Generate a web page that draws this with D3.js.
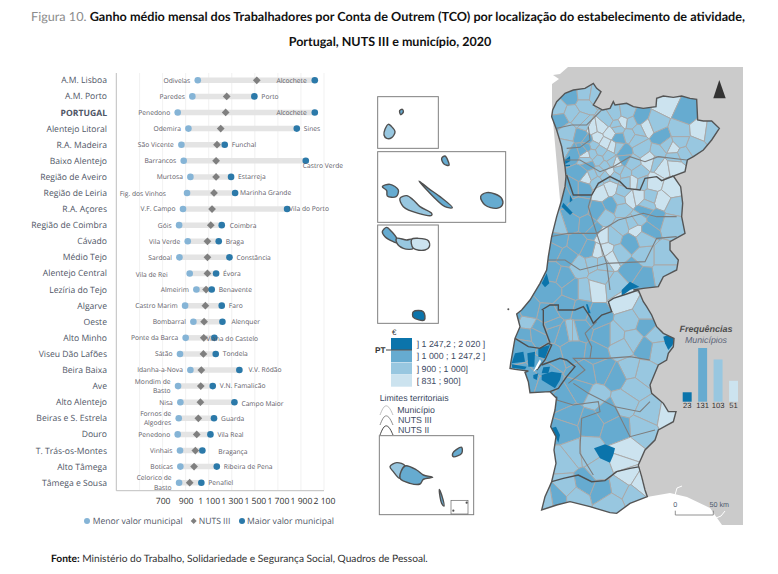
<!DOCTYPE html>
<html>
<head>
<meta charset="utf-8">
<script src="https://cdn.jsdelivr.net/npm/d3@7"></script>
<style>
  body { margin: 0; background: #fff; }
  text { font-family: "Open Sans", sans-serif; text-rendering: geometricPrecision; }
</style>
</head>
<body>
<div id="chart"></div>
<script>
// Chart data
var categories = ["A.M. Lisboa", "A.M. Porto", "PORTUGAL", "Alentejo Litoral", "R.A. Madeira", "Baixo Alentejo", "Região de Aveiro", "Região de Leiria", "R.A. Açores", "Região de Coimbra", "Cávado", "Médio Tejo", "Alentejo Central", "Lezíria do Tejo", "Algarve", "Oeste", "Alto Minho", "Viseu Dão Lafões", "Beira Baixa", "Ave", "Alto Alentejo", "Beiras e S. Estrela", "Douro", "T. Trás-os-Montes", "Alto Tâmega", "Tâmega e Sousa"];
var minValues = [1005, 958, 831, 924, 863, 883, 941, 912, 877, 843, 918, 846, 935, 993, 895, 967, 900, 851, 941, 834, 854, 840, 831, 851, 854, 843];
var nutsValues = [1517, 1256, 1247, 1204, 1172, 1164, 1164, 1146, 1129, 1118, 1089, 1089, 1089, 1077, 1071, 1060, 1057, 1054, 1036, 1031, 1028, 1010, 996, 984, 973, 935];
var maxValues = [2020, 1496, 2020, 1864, 1239, 1942, 1294, 1329, 1780, 1213, 1187, 1280, 1164, 1126, 1213, 1219, 1149, 1161, 1366, 1135, 1323, 1146, 1115, 1045, 1170, 1036];
var minNames = ["Odivelas", "Paredes", "Penedono", "Odemira", "São Vicente", "Barrancos", "Murtosa", "Fig. dos Vinhos", "V.F. Campo", "Góis", "Vila Verde", "Sardoal", "Vila de Rei", "Almeirim", "Castro Marim", "Bombarral", "Ponte da Barca", "Sátão", "Idanha-a-Nova", "Mondim de|Basto", "Nisa", "Fornos de|Algodres", "Penedono", "Vinhais", "Boticas", "Celorico de|Basto"];
var maxNames = ["Alcochete", "Porto", "Alcochete", "Sines", "Funchal", "Castro Verde", "Estarreja", "Marinha Grande", "Vila do Porto", "Coimbra", "Braga", "Constância", "Évora", "Benavente", "Faro", "Alenquer", "Viana do Castelo", "Tondela", "V.V. Ródão", "V.N. Famalicão", "Campo Maior", "Guarda", "Vila Real", "Bragança", "Ribeira de Pena", "Penafiel"];
var gridValues = [500, 700, 900, 1100, 1300, 1500, 1700, 1900, 2100];
var tickValues = [700, 900, 1100, 1300, 1500, 1700, 1900, 2100];

// Map legend data
var classLabels = ["] 1 247,2 ; 2 020 ]", "] 1 000 ; 1 247,2 ]", "] 900 ; 1 000]", "[ 831 ; 900]"];
var classCounts = [23, 131, 103, 51];
var classColors = ["#0b74ab", "#66abd0", "#98c7e0", "#cce3ef"];

// Map shapes. Units are 1/3 px of the north crop
var outlineNorth = [[68,150],[80,125],[105,100],[130,90],[165,85],[190,70],[200,85],[213,95],[205,110],[190,135],[218,150],[240,145],[250,125],[255,135],[290,130],[310,140],[340,145],[378,140],[380,115],[400,108],[430,112],[455,108],[480,115],[500,118],[503,180],[520,183],[545,183],[568,205],[545,240],[520,270],[490,290],[472,300],[465,335],[430,348],[452,380],[458,430],[455,470],[465,520],[420,545],[420,570],[445,600],[440,630],[400,650],[385,680],[340,685],[310,690]];
var outlineSouth = [[325,0],[340,35],[350,50],[365,75],[380,110],[400,130],[432,145],[430,170],[415,190],[410,210],[385,225],[360,285],[365,310],[400,340],[415,365],[438,365],[430,395],[385,420],[375,450],[345,480],[325,525],[335,560],[345,600],[352,620],[300,640],[260,670],[240,668],[180,650],[120,635],[80,645],[35,660],[45,620],[65,575],[78,520],[72,480],[78,440],[62,410],[75,360],[80,320]];
var outlineLisbon = [[185,385],[165,365],[105,368],[100,335],[90,307],[100,303],[60,298],[45,295],[47,280],[60,205],[75,170],[65,132],[80,120],[105,90],[135,40],[155,0]];
var outlineWest = [[55,590],[65,530],[80,470],[95,420],[105,380],[108,350],[105,320],[95,260],[80,210],[65,170]];
var estuary = [[115,305],[125,285],[135,268],[138,275],[128,295]];

var seedsNorth = [[120,110,1],[165,105,2],[85,145,2],[90,180,1],[125,160,2],[165,135,2],[195,110,2],[115,215,2],[155,225,1],[175,240,1],[150,180,2],[185,205,3],[215,200,3],[240,220,3],[200,235,3],[225,250,3],[250,260,3],[255,165,2],[280,185,3],[265,235,1],[300,225,2],[330,175,1],[350,200,3],[395,235,1],[405,130,3],[470,160,1],[450,215,2],[510,210,3],[545,215,2],[490,260,2],[430,265,3],[385,275,2],[335,265,2],[105,265,2],[130,280,1],[170,285,3],[205,300,2],[235,290,2],[280,275,1],[175,315,1],[210,335,2],[240,335,3],[170,352,3],[200,365,2],[260,310,3],[305,310,2],[285,340,2],[325,340,2],[310,365,3],[360,300,3],[400,320,3],[430,315,3],[460,280,2],[370,370,3],[425,385,3],[395,420,3],[435,440,2],[360,410,2],[300,415,3],[325,410,3],[240,385,3],[280,395,2],[215,395,3],[245,435,1],[205,455,1],[225,470,2],[275,445,2],[130,385,1],[160,385,1],[150,440,1],[100,400,1],[120,490,1],[175,495,1],[90,500,2],[345,450,1],[375,475,1],[310,490,2],[425,490,2],[275,500,2],[320,510,3],[350,510,1],[300,545,1],[220,530,3],[230,570,3],[245,590,3],[200,575,3],[180,570,1],[140,550,1],[85,540,1],[110,590,1],[70,570,1],[150,620,2],[190,610,2],[345,590,2],[400,590,2],[400,640,2],[310,630,1],[340,650,1],[70,640,1],[100,650,1],[130,690,1],[160,690,2],[210,650,2],[200,685,3],[255,680,2],[60,690,1],
  [165,195,2],[232,180,2],[262,205,2],[190,255,2],[170,262,1],[212,272,2],[262,262,2],[325,212,2],[375,190,2],[320,238,2],[260,195,2],[302,188,2],[290,160,2],[410,255,2],[450,245,2],[432,292,2],[380,305,2],[225,347,2],[255,347,2],[225,318,2],[155,340,1],[187,345,2],[160,270,1],[186,282,2],[170,300,2],[245,305,2],[282,298,1],[265,330,2],[290,365,2],[335,368,2],[270,420,2],[350,435,2],[325,480,2],[340,530,2],[190,510,1],[250,530,2],[265,580,2],[215,610,2]];
var seedsSouth = [[280,30,3],[300,95,2],[345,65,2],[345,110,1],[255,140,2],[375,140,2],[380,175,2],[310,145,2],[350,170,1],[340,250,2],[300,240,2],[310,290,2],[270,170,2],[225,140,1],[150,120,1],[130,180,1],[100,130,1],[125,125,2],[70,120,1],[55,80,1],[200,80,1],[150,60,1],[110,50,1],[30,120,1],[200,190,1],[220,240,1],[165,250,1],[260,260,1],[150,300,1],[100,330,1],[40,230,1],[60,200,1],[280,335,2],[200,325,2],[360,370,2],[415,380,3],[340,415,2],[230,360,1],[180,395,1],[120,375,1],[105,420,1],[260,420,1],[130,490,2],[105,510,2],[175,485,2],[210,540,2],[285,485,3],[275,515,3],[290,560,3],[330,585,3],[270,590,2],[310,610,2],[215,600,1],[165,580,1],[110,590,2],[80,620,1],[50,625,2],[240,640,2],[140,620,2]];
var seedsLisbon = [[90,155,2],[60,140,1],[95,125,1],[235,185,2],[85,195,1],[130,190,1],[170,165,1],[80,225,1],[105,330,1],[150,345,1]];

// Municipalities in the top class, too small for the seeds
var topClassNorth = [
  [[105,300],[120,288],[121,303],[106,312]],
  [[106,315],[120,314],[120,318],[106,319]],
  [[120,405],[128,420],[119,428]],
  [[100,428],[128,458],[120,465],[95,440]],
  [[35,670],[50,640],[58,670],[45,682]],
  [[275,690],[300,665],[328,680],[300,690],[275,708]]
];
var topClassSouth = [
  [[400,140],[415,135],[432,145],[428,165],[415,180],[405,160]],
  [[192,475],[225,463],[255,475],[250,495],[240,518],[210,505]],
  [[62,415],[78,410],[90,435],[85,458],[72,430]]
];
var topClassLisbon = [
  [[60,250],[85,245],[90,275],[50,280]],
  [[97,250],[120,245],[118,290],[100,290]],
  [[130,235],[165,225],[150,265],[130,260]],
  [[140,315],[170,305],[200,310],[195,330],[180,355],[140,330]],
  [[145,292],[165,290],[160,310],[140,310]],
  [[115,315],[130,310],[125,330],[115,325]],
  [[50,283],[95,290],[90,298],[52,294]],
  [[273,103],[278,103],[287,130],[280,130]]
];

// Boundaries between regions
var nuts2North = [[[110,345],[120,375],[130,405],[185,405],[205,370],[240,350],[270,365],[290,385],[330,390],[345,355],[380,350],[395,362],[430,348]]];
var nuts2South = [
  [[35,60],[60,45],[85,45],[85,60],[135,60],[160,50],[180,80],[190,100],[215,75],[245,65],[235,35],[250,25],[290,12],[325,0]],
  [[65,575],[100,565],[145,555],[185,575],[225,572],[260,545],[300,535],[330,530]]
];
var nuts2Lisbon = [
  [[60,205],[100,230],[135,235],[160,220],[170,225],[150,270],[125,300]],
  [[140,285],[195,265],[215,270],[240,290],[215,320],[190,355],[165,365]],
  [[145,120],[145,165],[165,218]]
];
var nuts3North = [
  [[80,205],[125,195],[170,195],[215,150]],
  [[110,265],[150,262],[180,240],[175,200]],
  [[100,300],[150,300],[210,335],[250,320],[300,290],[345,305],[385,290],[470,300]],
  [[185,405],[175,440],[200,520],[265,480],[340,460],[380,470],[440,470]],
  [[60,530],[115,520],[200,520],[230,610],[345,605],[380,535],[440,530]],
  [[40,600],[105,600],[150,630],[230,610]],
  [[230,610],[240,690]]
];
var nuts3South = [
  [[165,130],[200,95]],
  [[165,130],[185,170],[180,205],[130,205],[165,240],[115,280]],
  [[180,205],[230,205],[300,200],[360,210]],
  [[130,280],[175,310],[255,350],[330,365],[360,335]],
  [[80,330],[130,345],[205,335],[210,365],[155,385],[150,475],[150,490],[190,555]],
  [[255,350],[300,440],[375,420]]
];

// Islands, in units of the inset crops
var flores = [[55,103],[65,110],[75,125],[65,143],[50,145],[42,135],[45,118]];
var corvo = [[89,62],[97,58],[100,66],[92,74]];
var graciosa = [[215,205],[225,198],[235,215],[237,226],[222,222]];
var faial = [[37,290],[60,283],[85,300],[78,320],[52,318],[50,302]];
var pico = [[90,325],[110,317],[130,330],[150,350],[185,370],[185,376],[145,370],[100,350]];
var saoJorge = [[147,273],[175,295],[210,320],[247,353],[225,350],[190,320]];
var terceira = [[332,320],[350,308],[375,312],[395,325],[397,345],[380,355],[345,345]];
var saoMiguelWest = [[37,425],[50,412],[65,425],[80,445],[80,458],[70,455],[45,440]];
var saoMiguelMid = [[80,445],[110,450],[125,448],[130,475],[100,475],[80,458]];
var saoMiguelEast = [[125,448],[145,445],[175,452],[178,470],[165,480],[130,475]];
var santaMaria = [[130,665],[160,665],[163,690],[130,682]];
var madeiraWest = [[60,440],[80,428],[105,438],[90,475],[70,455]];
var madeiraEast = [[105,438],[140,450],[160,465],[188,472],[160,478],[150,492],[120,490],[90,475]];
var portoSanto = [[248,400],[260,388],[275,382],[275,400],[250,410]];
var desertas = [[208,508],[215,525],[222,558],[215,550],[210,530]];
var selvagens = [[290,548],[250,572]];

var svg = d3.select("#chart").append("svg").attr("width", 778).attr("height", 574);

// Titles
var title1 = svg.append("text").attr("x", 31).attr("y", 21).attr("font-size", 12.5)
  .attr("textLength", 714).attr("lengthAdjust", "spacingAndGlyphs")
  .style("font-family", "Lato, sans-serif").attr("font-weight", 700).attr("fill", "#111");
title1.append("tspan").attr("fill", "#8c8c8c").attr("font-weight", 400).text("Figura 10. ");
title1.append("tspan").text("Ganho médio mensal dos Trabalhadores por Conta de Outrem (TCO) por localização do estabelecimento de atividade,");
svg.append("text").attr("x", 390).attr("y", 46).attr("text-anchor", "middle").attr("font-size", 12.5)
  .style("font-family", "Lato, sans-serif").attr("font-weight", 700).attr("fill", "#111")
  .text("Portugal, NUTS III e município, 2020");

var footer = svg.append("text").attr("x", 51).attr("y", 562).attr("font-size", 10.2)
  .style("font-family", "Lato, sans-serif").attr("fill", "#333");
footer.append("tspan").attr("font-weight", 700).attr("fill", "#111").text("Fonte: ");
footer.append("tspan").text("Ministério do Trabalho, Solidariedade e Segurança Social, Quadros de Pessoal.");

// Dumbbell chart
var x = d3.scaleLinear().domain([700, 2100]).range([162.6, 324]);
var y = d3.scalePoint().domain(categories).range([80.3, 482.7]);

var labelColor = "#5c5a66";
var minColor = "#85b4d6";
var maxColor = "#2b79a9";
var diamond = d3.symbol().type(d3.symbolSquare).size(30);

svg.append("g").selectAll("line").data(gridValues).join("line")
  .attr("x1", (d) => x(d)).attr("x2", (d) => x(d))
  .attr("y1", 73).attr("y2", 490)
  .attr("stroke", "#eeeeee").attr("stroke-width", 0.8);

svg.append("line").attr("x1", 116.3).attr("x2", 116.3).attr("y1", 73).attr("y2", 490.7)
  .attr("stroke", "#bfbfbf").attr("stroke-width", 1);

var nf = d3.formatLocale({ decimal: ",", thousands: " ", grouping: [3], currency: ["", "€"] }).format(",");
var xAxis = svg.append("g").attr("transform", "translate(0,490.7)")
  .call(d3.axisBottom(x).tickValues(tickValues).tickFormat(nf).tickSize(0).tickPadding(7));
xAxis.select(".domain").remove();
xAxis.selectAll("text").attr("font-size", 8.6).attr("fill", "#333")
  .style("font-family", "'Open Sans', sans-serif");
svg.append("line").attr("x1", 116.3).attr("x2", 324).attr("y1", 490.7).attr("y2", 490.7)
  .attr("stroke", "#bfbfbf").attr("stroke-width", 1);

svg.append("g").selectAll("text").data(categories).join("text")
  .attr("x", 107).attr("y", (d) => y(d)).attr("dy", "0.35em")
  .attr("text-anchor", "end").attr("font-size", 8.6).attr("fill", "#4f5666")
  .attr("font-weight", (d) => d === "PORTUGAL" ? 700 : 400)
  .text((d) => d);

// Grey bar from lowest to highest municipality
svg.append("g").selectAll("line").data(categories).join("line")
  .attr("x1", (d, i) => x(minValues[i])).attr("x2", (d, i) => x(maxValues[i]))
  .attr("y1", (d) => y(d)).attr("y2", (d) => y(d))
  .attr("stroke", "#e4e4e4").attr("stroke-width", 5.5);

svg.append("g").selectAll("path").data(categories).join("path")
  .attr("d", diamond)
  .attr("transform", (d, i) => "translate(" + x(nutsValues[i]) + "," + y(d) + ") rotate(45)")
  .attr("fill", "#7f7f7f");

svg.append("g").selectAll("circle").data(categories).join("circle")
  .attr("cx", (d, i) => x(minValues[i])).attr("cy", (d) => y(d)).attr("r", 3.3).attr("fill", minColor);
svg.append("g").selectAll("circle").data(categories).join("circle")
  .attr("cx", (d, i) => x(maxValues[i])).attr("cy", (d) => y(d)).attr("r", 3.3).attr("fill", maxColor);

// Municipality names. Most sit 8 px off the dot, these ones do not
var minShift = { "Fig. dos Vinhos": [-21, 0.5], "Vila de Rei": [-22, 1] };
var maxShift = {
  "Castro Verde": [-3, 4.5], "Vila do Porto": [2, 0], "Marinha Grande": [5, 0], "Viana do Castelo": [-8, 1],
  "Bragança": [16, 1], "V.V. Ródão": [9, 0], "Alenquer": [9, 0], "Coimbra": [8, 0], "Campo Maior": [7, 1]
};

minNames.forEach(function(name, i) {
  var shift = minShift[name] || [-7.5, 0];
  var lines = name.split("|");
  lines.forEach(function(line, k) {
    svg.append("text")
      .attr("text-anchor", "end").attr("font-size", 6.7).attr("fill", labelColor)
      .attr("x", x(minValues[i]) + shift[0])
      .attr("y", y(categories[i]) + shift[1] + (k - (lines.length - 1) / 2) * 9.4)
      .attr("dy", "0.35em").text(line);
  });
});

maxNames.forEach(function(name, i) {
  // Alcochete does not fit past the dot, it goes inside the bar
  var inside = name === "Alcochete";
  var shift = inside ? [-8, 0] : (maxShift[name] || [7, 0]);
  svg.append("text")
    .attr("text-anchor", inside ? "end" : "start").attr("font-size", 6.7).attr("fill", labelColor)
    .attr("x", x(maxValues[i]) + shift[0]).attr("y", y(categories[i]) + shift[1])
    .attr("dy", "0.35em").text(name);
});

// Chart legend
var legend = svg.append("g").attr("font-size", 8.6).attr("fill", "#4f5666");
legend.append("circle").attr("cx", 87).attr("cy", 521).attr("r", 3).attr("fill", minColor);
legend.append("text").attr("x", 92.7).attr("y", 521).attr("dy", "0.35em").text("Menor valor municipal");
legend.append("path").attr("d", d3.symbol().type(d3.symbolSquare).size(18))
  .attr("transform", "translate(193.7,521) rotate(45)").attr("fill", "#7f7f7f");
legend.append("text").attr("x", 198.7).attr("y", 521).attr("dy", "0.35em").text("NUTS III");
legend.append("circle").attr("cx", 242).attr("cy", 521).attr("r", 3).attr("fill", maxColor);
legend.append("text").attr("x", 247).attr("y", 521).attr("dy", "0.35em").text("Maior valor municipal");

// Map
var mapX = d3.scaleLinear().domain([0, 660]).range([530, 750]);
var mapY = d3.scaleLinear().domain([0, 720]).range([60, 300]);
var fromSouth = (pts) => pts.map((p) => [p[0], p[1] + 690].concat(p.slice(2)));
var fromLisbon = (pts) => pts.map((p) => [p[0] - 105, p[1] + 630].concat(p.slice(2)));
var mapLine = d3.line().x((d) => mapX(d[0])).y((d) => mapY(d[1]));
var mapShape = (pts) => mapLine(pts) + "Z";

var outline = outlineNorth.concat(fromSouth(outlineSouth), fromLisbon(outlineLisbon), outlineWest);
var seeds = seedsNorth.concat(fromSouth(seedsSouth), fromLisbon(seedsLisbon));

// Spain and the sea edge, in plain page pixels
var spain = [[568,67],[743,67],[743,525],[722,525],[710,508],[687,497],[670,493],[647,497],[600,300],[560,200],[552,110],[552,84],[559,79],[553,75],[560,74]];
svg.append("path").attr("d", d3.line()(spain) + "Z").attr("fill", "#cbcbcb");
svg.append("path").attr("d", d3.line()([[675,495],[677,488],[682,486]])).attr("fill", "none").attr("stroke", "#fff");
svg.append("path").attr("d", d3.line()([[716,518],[721,516],[725,511]])).attr("fill", "none").attr("stroke", "#fff");

svg.append("clipPath").attr("id", "pt-clip").append("path").attr("d", mapShape(outline));
var mapG = svg.append("g").attr("clip-path", "url(#pt-clip)");

var cellPoints = seeds.map((s) => [mapX(s[0]), mapY(s[1])]);
var voronoi = d3.Delaunay.from(cellPoints).voronoi([490, 60, 750, 530]);
mapG.append("g").selectAll("path").data(seeds).join("path")
  .attr("d", (d, i) => voronoi.renderCell(i))
  .attr("fill", (d) => classColors[d[2]])
  .attr("stroke", "#a9a9a9").attr("stroke-width", 1);

var topClass = topClassNorth.concat(topClassSouth.map(fromSouth), topClassLisbon.map(fromLisbon));
mapG.append("g").selectAll("path").data(topClass).join("path")
  .attr("d", mapShape).attr("fill", classColors[0]);

var nuts3 = nuts3North.concat(nuts3South.map(fromSouth));
mapG.append("g").selectAll("path").data(nuts3).join("path")
  .attr("d", mapLine).attr("fill", "none").attr("stroke", "#7d7d7d").attr("stroke-width", 1.1);

var nuts2 = nuts2North.concat(nuts2South.map(fromSouth), nuts2Lisbon.map(fromLisbon));
mapG.append("g").selectAll("path").data(nuts2).join("path")
  .attr("d", mapLine).attr("fill", "none").attr("stroke", "#4f4f4f").attr("stroke-width", 1.4);

svg.append("path").attr("d", mapShape(fromLisbon(estuary))).attr("fill", "#fff");
svg.append("path").attr("d", mapShape(outline)).attr("fill", "none")
  .attr("stroke", "#555").attr("stroke-width", 1.4);
svg.append("circle").attr("cx", mapX(40 - 105)).attr("cy", mapY(118 + 630)).attr("r", 1).attr("fill", "#555");

// North arrow and scale bar
svg.append("path").attr("d", d3.line()([[719.3,80],[713.3,98.3],[725.7,98.3]]) + "Z").attr("fill", "#333");
var km = d3.scaleLinear().domain([0, 50]).range([675.3, 713.3]);
svg.append("path")
  .attr("d", d3.line()([[km(0),510.7],[km(0),515],[km(50),515],[km(50),510.7]]))
  .attr("fill", "none").attr("stroke", "#777").attr("stroke-width", 0.8);
var kmText = svg.append("g").attr("font-size", 7.2).attr("fill", "#4f5a70")
  .style("font-family", "'Liberation Sans', sans-serif");
kmText.append("text").attr("x", km(0)).attr("y", 506.5).attr("text-anchor", "middle").style("font-family", "inherit").text("0");
kmText.append("text").attr("x", km(50) + 6).attr("y", 506.5).attr("text-anchor", "middle").style("font-family", "inherit").text("50 km");

// Frequency bars inside the map
var freqX = d3.scaleBand().domain(classCounts).range([682.7, 738]).paddingInner(0.42);
var freqY = d3.scaleLinear().domain([0, 131]).range([401.7, 348]);
svg.append("g").selectAll("rect").data(classCounts).join("rect")
  .attr("x", (d) => freqX(d)).attr("width", freqX.bandwidth())
  .attr("y", (d) => freqY(d)).attr("height", (d) => freqY(0) - freqY(d))
  .attr("fill", (d, i) => classColors[i]);
var freqText = svg.append("g").style("font-family", "'Liberation Sans', sans-serif");
freqText.selectAll("text").data(classCounts).join("text")
  .attr("x", (d) => freqX(d) + freqX.bandwidth() / 2).attr("y", 408).attr("text-anchor", "middle")
  .attr("font-size", 7.6).attr("fill", "#333").style("font-family", "inherit").text((d) => d);
freqText.append("text").attr("x", 706).attr("y", 331.5).attr("text-anchor", "middle").attr("font-size", 9)
  .attr("font-weight", 700).attr("font-style", "italic").attr("fill", "#4d4d4d").style("font-family", "inherit").text("Frequências");
freqText.append("text").attr("x", 706).attr("y", 343).attr("text-anchor", "middle").attr("font-size", 8.8)
  .attr("font-style", "italic").attr("fill", "#5b6478").style("font-family", "inherit").text("Municípios");

// Inset boxes for the islands
var insetX = d3.scaleLinear().domain([0, 480]).range([370, 530]);
var insetY = d3.scaleLinear().domain([0, 720]).range([90, 330]);
var insetLine = d3.line().x((d) => insetX(d[0])).y((d) => insetY(d[1])).curve(d3.curveCatmullRomClosed);
var madeiraX = d3.scaleLinear().domain([0, 480]).range([370, 530]);
var madeiraY = d3.scaleLinear().domain([0, 600]).range([320, 520]);
var madeiraLine = d3.line().x((d) => madeiraX(d[0])).y((d) => madeiraY(d[1])).curve(d3.curveCatmullRomClosed);

var insetBoxes = [[23, 20, 205, 175], [23, 185, 407, 397], [23, 405, 205, 700]];
svg.append("g").selectAll("rect").data(insetBoxes).join("rect")
  .attr("x", (d) => insetX(d[0])).attr("y", (d) => insetY(d[1]))
  .attr("width", (d) => insetX(d[2]) - insetX(d[0])).attr("height", (d) => insetY(d[3]) - insetY(d[1]))
  .attr("fill", "#fff").attr("stroke", "#808080").attr("stroke-width", 1);

var azores = [[corvo, 1], [flores, 2], [graciosa, 1], [faial, 1], [pico, 2], [saoJorge, 1], [terceira, 1], [saoMiguelWest, 1], [saoMiguelMid, 2], [saoMiguelEast, 3], [santaMaria, 0]];
svg.append("g").selectAll("path").data(azores).join("path")
  .attr("d", (d) => insetLine(d[0])).attr("fill", (d) => classColors[d[1]])
  .attr("stroke", "#505050").attr("stroke-width", 1.4);

svg.append("rect").attr("x", madeiraX(28)).attr("y", madeiraY(347))
  .attr("width", madeiraX(311) - madeiraX(28)).attr("height", madeiraY(584) - madeiraY(347))
  .attr("fill", "#fff").attr("stroke", "#808080").attr("stroke-width", 1);
svg.append("rect").attr("x", madeiraX(243)).attr("y", madeiraY(541))
  .attr("width", madeiraX(294) - madeiraX(243)).attr("height", madeiraY(582) - madeiraY(541))
  .attr("fill", "#fff").attr("stroke", "#666").attr("stroke-width", 0.7);
var madeiraParts = [[madeiraWest, 2], [madeiraEast, 1], [portoSanto, 1], [desertas, 1]];
svg.append("g").selectAll("path").data(madeiraParts).join("path")
  .attr("d", (d) => madeiraLine(d[0])).attr("fill", (d) => classColors[d[1]])
  .attr("stroke", "#505050").attr("stroke-width", 1.4);
svg.append("g").selectAll("circle").data(selvagens).join("circle")
  .attr("cx", (d) => madeiraX(d[0])).attr("cy", (d) => madeiraY(d[1])).attr("r", 1.1).attr("fill", "#505050");

// Map legend
var mapLegend = svg.append("g").style("font-family", "'Liberation Sans', sans-serif");
mapLegend.append("text").attr("x", 394.3).attr("y", 334.5).attr("text-anchor", "middle").attr("font-size", 8)
  .attr("fill", "#333").style("font-family", "inherit").text("€");
var swatchY = d3.scaleBand().domain(classLabels).range([338, 386.7]).paddingInner(0.03);
mapLegend.selectAll("rect").data(classLabels).join("rect")
  .attr("x", 391).attr("width", 21).attr("y", (d) => swatchY(d)).attr("height", swatchY.bandwidth())
  .attr("fill", (d, i) => classColors[i]);
mapLegend.selectAll("text.cls").data(classLabels).join("text").attr("class", "cls")
  .attr("x", 416.7).attr("y", (d) => swatchY(d) + swatchY.bandwidth() / 2).attr("dy", "0.35em")
  .attr("font-size", 8.8).attr("fill", "#3d4a63").style("font-family", "inherit").text((d) => d);
mapLegend.append("text").attr("x", 375).attr("y", 353).attr("font-size", 8.2).attr("font-weight", 700)
  .attr("fill", "#333").style("font-family", "inherit").text("PT");
mapLegend.append("line").attr("x1", 386).attr("x2", 412).attr("y1", 350).attr("y2", 350)
  .attr("stroke", "#444").attr("stroke-width", 1);

mapLegend.append("text").attr("x", 379.7).attr("y", 401).attr("font-size", 8.8)
  .attr("fill", "#3d4a63").style("font-family", "inherit").text("Limites territoriais");
var limits = [["Município", "#b5b5b5", 410, 397.3], ["NUTS III", "#7d7d7d", 420, 398], ["NUTS II", "#333333", 430, 398]];
limits.forEach(function(row) {
  mapLegend.append("path")
    .attr("d", d3.line().curve(d3.curveBasis)([[380, row[2] + 5], [384, row[2] - 5], [389, row[2] - 4], [393, row[2] + 5]]))
    .attr("fill", "none").attr("stroke", row[1]).attr("stroke-width", 0.9);
  mapLegend.append("text").attr("x", row[3]).attr("y", row[2]).attr("dy", "0.35em").attr("font-size", 8.8)
    .attr("fill", "#3d4a63").style("font-family", "inherit").text(row[0]);
});
</script>
</body>
</html>
